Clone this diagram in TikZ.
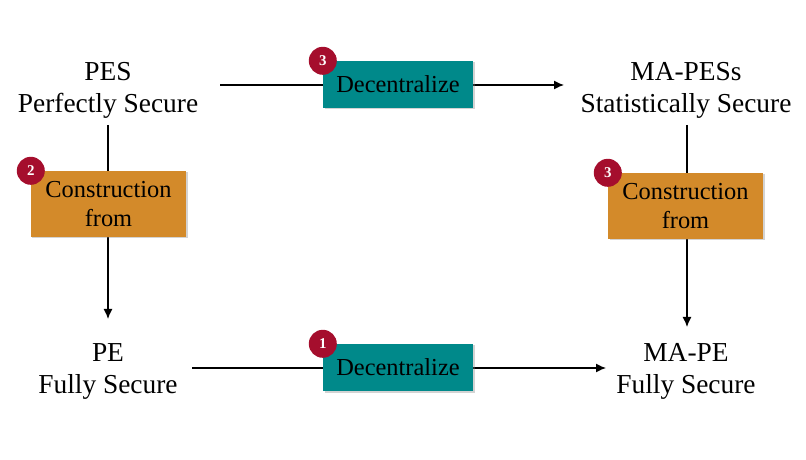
\documentclass[tikz,border=0pt]{standalone}
\usepackage{fontspec}
\setmainfont{Liberation Serif}
\usetikzlibrary{shadows,arrows.meta}
\definecolor{tealbox}{RGB}{0,137,138}
\definecolor{orangebox}{RGB}{211,138,42}
\definecolor{badgered}{RGB}{165,14,45}
\tikzset{
  lbl/.style={align=center,font=\fontsize{27.5}{31.5}\selectfont,inner sep=0pt},
  decbox/.style={fill=tealbox,minimum width=150bp,minimum height=47bp,inner sep=0pt,font=\fontsize{24.5}{28}\selectfont,
     drop shadow={shadow xshift=1.5bp,shadow yshift=-1.5bp,opacity=0.35}},
  conbox/.style={fill=orangebox,minimum width=155bp,minimum height=66bp,inner sep=0pt,align=center,font=\fontsize{24.5}{28.5}\selectfont,
     drop shadow={shadow xshift=1.5bp,shadow yshift=-1.5bp,opacity=0.35}},
  badge/.style={circle,fill=badgered,text=white,minimum size=28bp,inner sep=0pt,font=\bfseries\fontsize{15}{15}\selectfont},
  conn/.style={line width=1.3bp,-{Latex[length=10bp,width=9bp]}},
}
\begin{document}
\begin{tikzpicture}[x=1bp,y=-1bp]
\useasboundingbox (0,0) rectangle (806,460);
\node[lbl] (pes) at (108,90.5) {PES\\Perfectly Secure};
\node[lbl] (mapes) at (686,90.5) {MA-PESs\\Statistically Secure};
\node[lbl] (pe) at (108,371.5) {PE\\Fully Secure};
\node[lbl] (mape) at (686,371.5) {MA-PE\\Fully Secure};
\coordinate (tA) at (220,85);
\coordinate (tB) at (564,85);
\coordinate (bA) at (192,368);
\coordinate (bB) at (606,368);
\coordinate (lA) at (108,125);
\coordinate (lB) at (108,319);
\coordinate (rA) at (687,125);
\coordinate (rB) at (687,327);
\draw[conn] (tA) -- (tB);
\draw[conn] (bA) -- (bB);
\draw[conn] (lA) -- (lB);
\draw[conn] (rA) -- (rB);
\node[decbox] (dtop) at (398,84.5) {Decentralize};
\node[decbox] (dbot) at (398,367.5) {Decentralize};
\node[conbox] (cleft) at (108.5,204) {Construction\\from};
\node[conbox] (cright) at (685.5,206) {Construction\\from};
\node[badge] (b1) at (dtop.north west) {3};
\node[badge] (b2) at (dbot.north west) {1};
\node[badge] (b3) at (cleft.north west) {2};
\node[badge] (b4) at (cright.north west) {3};
\end{tikzpicture}
\end{document}
